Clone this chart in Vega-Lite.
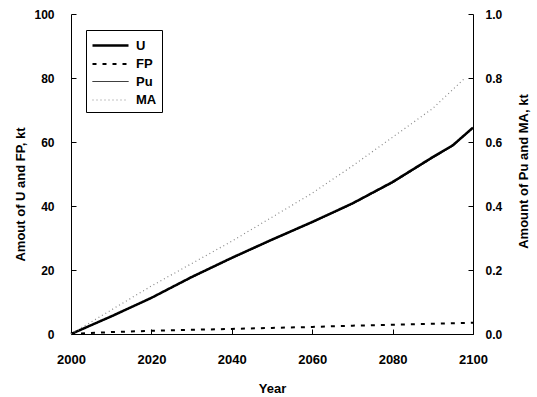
{
  "$schema": "https://vega.github.io/schema/vega-lite/v6.json",
  "width": 402,
  "height": 320,
  "autosize": {"type": "none"},
  "padding": {"left": 71, "top": 14, "right": 64, "bottom": 63},
  "background": "white",
  "data": {
    "values": [
      {"year": 2000, "series": "U", "value": 0},
      {"year": 2010, "series": "U", "value": 5.5},
      {"year": 2020, "series": "U", "value": 11.3},
      {"year": 2030, "series": "U", "value": 17.8},
      {"year": 2040, "series": "U", "value": 23.8},
      {"year": 2050, "series": "U", "value": 29.5},
      {"year": 2060, "series": "U", "value": 35.0},
      {"year": 2070, "series": "U", "value": 40.8},
      {"year": 2080, "series": "U", "value": 47.5},
      {"year": 2090, "series": "U", "value": 55.3},
      {"year": 2095, "series": "U", "value": 59.0},
      {"year": 2100, "series": "U", "value": 64.5},
      {"year": 2000, "series": "FP", "value": 0},
      {"year": 2010, "series": "FP", "value": 0.6},
      {"year": 2020, "series": "FP", "value": 1.0},
      {"year": 2030, "series": "FP", "value": 1.3},
      {"year": 2040, "series": "FP", "value": 1.6},
      {"year": 2050, "series": "FP", "value": 1.9},
      {"year": 2060, "series": "FP", "value": 2.2},
      {"year": 2070, "series": "FP", "value": 2.6},
      {"year": 2080, "series": "FP", "value": 2.9},
      {"year": 2090, "series": "FP", "value": 3.2},
      {"year": 2100, "series": "FP", "value": 3.5},
      {"year": 2000, "series": "Pu", "value": 0},
      {"year": 2010, "series": "Pu", "value": 0.054},
      {"year": 2020, "series": "Pu", "value": 0.112},
      {"year": 2030, "series": "Pu", "value": 0.176},
      {"year": 2040, "series": "Pu", "value": 0.236},
      {"year": 2050, "series": "Pu", "value": 0.293},
      {"year": 2060, "series": "Pu", "value": 0.348},
      {"year": 2070, "series": "Pu", "value": 0.406},
      {"year": 2080, "series": "Pu", "value": 0.472},
      {"year": 2090, "series": "Pu", "value": 0.55},
      {"year": 2095, "series": "Pu", "value": 0.587},
      {"year": 2100, "series": "Pu", "value": 0.643},
      {"year": 2000, "series": "MA", "value": 0},
      {"year": 2010, "series": "MA", "value": 0.075},
      {"year": 2020, "series": "MA", "value": 0.15},
      {"year": 2030, "series": "MA", "value": 0.22},
      {"year": 2040, "series": "MA", "value": 0.29},
      {"year": 2050, "series": "MA", "value": 0.365},
      {"year": 2060, "series": "MA", "value": 0.44},
      {"year": 2070, "series": "MA", "value": 0.525},
      {"year": 2080, "series": "MA", "value": 0.615},
      {"year": 2090, "series": "MA", "value": 0.705},
      {"year": 2098, "series": "MA", "value": 0.8}
    ]
  },
  "encoding": {
    "x": {
      "field": "year",
      "type": "quantitative",
      "scale": {"domain": [2000, 2100], "nice": false},
      "axis": {
        "values": [2000, 2020, 2040, 2060, 2080, 2100],
        "format": "d",
        "tickSize": -5,
        "labelFlush": false,
        "labelPadding": 24,
        "labelFontSize": 13,
        "title": "Year",
        "titleY": 54,
        "titleBaseline": "middle",
        "titleFontSize": 13
      }
    },
    "color": {
      "field": "series",
      "type": "nominal",
      "scale": {"domain": ["U", "FP", "Pu", "MA"], "range": ["#000000", "#000000", "#000000", "#888888"]},
      "legend": {"title": null}
    },
    "strokeDash": {
      "field": "series",
      "type": "nominal",
      "scale": {"domain": ["U", "FP", "Pu", "MA"], "range": [[1, 0], [4, 6], [1, 0], [1, 3]]},
      "legend": {"title": null}
    },
    "strokeWidth": {
      "field": "series",
      "type": "nominal",
      "scale": {"type": "ordinal", "domain": ["U", "FP", "Pu", "MA"], "range": [2.5, 2, 1, 1.2]},
      "legend": {"title": null}
    }
  },
  "layer": [
    {
      "transform": [{"filter": "datum.series == 'U' || datum.series == 'FP'"}],
      "mark": {"type": "line"},
      "encoding": {
        "y": {
          "field": "value",
          "type": "quantitative",
          "scale": {"domain": [0, 100], "nice": false},
          "axis": {
            "orient": "left",
            "values": [0, 20, 40, 60, 80, 100],
            "tickSize": -5,
            "labelPadding": 22,
            "title": "Amout of U and FP, kt",
            "titleAngle": -90,
            "titleX": -51,
            "titleY": 180,
            "titleBaseline": "middle",
            "titleFontSize": 13
          }
        }
      }
    },
    {
      "transform": [{"filter": "datum.series == 'Pu' || datum.series == 'MA'"}],
      "mark": {"type": "line"},
      "encoding": {
        "y": {
          "field": "value",
          "type": "quantitative",
          "scale": {"domain": [0, 1], "nice": false},
          "axis": {
            "orient": "right",
            "values": [0, 0.2, 0.4, 0.6, 0.8, 1.0],
            "format": ".1f",
            "tickSize": -5,
            "labelPadding": 17,
            "title": "Amount of Pu and MA, kt",
            "titleAngle": -90,
            "titleX": 50,
            "titleY": 157,
            "titleBaseline": "middle",
            "titleFontSize": 13
          }
        }
      }
    }
  ],
  "resolve": {"scale": {"y": "independent"}},
  "config": {
    "view": {"stroke": null},
    "font": "Liberation Sans",
    "axis": {
      "grid": false,
      "domainColor": "#000000",
      "tickColor": "#000000",
      "tickWidth": 1,
      "labelColor": "#000000",
      "titleColor": "#000000",
      "labelFont": "Liberation Sans",
      "titleFont": "Liberation Sans",
      "labelFontWeight": "bold",
      "titleFontWeight": "bold",
      "labelFontSize": 12
    },
    "legend": {
      "orient": "none",
      "legendX": 15,
      "legendY": 16,
      "strokeColor": "#000000",
      "padding": 5,
      "symbolSize": 324,
      "symbolType": "M-1,0H3",
      "labelOffset": 24,
      "labelFont": "Liberation Sans",
      "labelFontWeight": "bold",
      "labelFontSize": 13,
      "labelColor": "#000000",
      "rowPadding": 1
    }
  }
}
